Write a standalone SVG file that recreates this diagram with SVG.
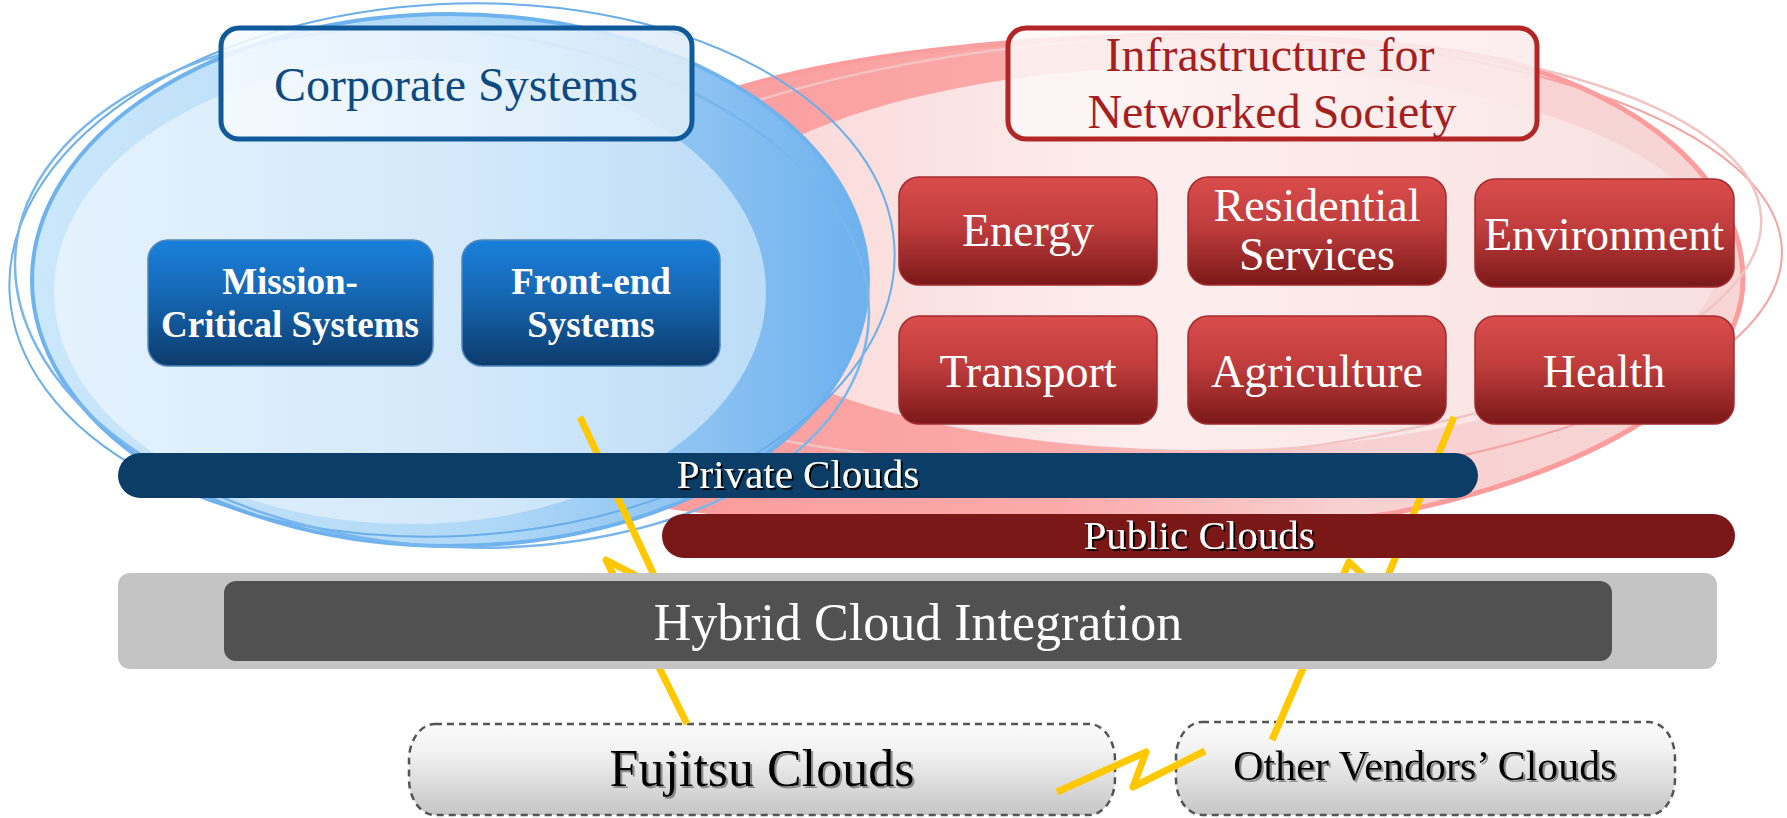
<svg xmlns="http://www.w3.org/2000/svg" width="1787" height="818" viewBox="0 0 1787 818">
<defs>
<linearGradient id="gBlueOuter" x1="0" y1="0" x2="1" y2="0">
<stop offset="0" stop-color="#cbe7fb"/><stop offset="0.55" stop-color="#b0d8f7"/><stop offset="1" stop-color="#6eb1ee"/>
</linearGradient>
<linearGradient id="gBlueInner" x1="0" y1="0" x2="1" y2="0">
<stop offset="0" stop-color="#e4f2fd"/><stop offset="0.6" stop-color="#d2e8fa"/><stop offset="1" stop-color="#bcdcf7"/>
</linearGradient>
<linearGradient id="gRedOuter" gradientUnits="userSpaceOnUse" x1="600" y1="0" x2="1745" y2="0">
<stop offset="0" stop-color="#fb9a9a"/><stop offset="0.4" stop-color="#fbaaaa"/><stop offset="0.65" stop-color="#f8d0d0"/><stop offset="1" stop-color="#f7d6d6"/>
</linearGradient>
<linearGradient id="gRedInner" x1="0" y1="0" x2="1" y2="0">
<stop offset="0" stop-color="#f9d4d4"/><stop offset="0.45" stop-color="#fdeeee"/><stop offset="1" stop-color="#f9dfdf"/>
</linearGradient>
<linearGradient id="gBlueBox" x1="0" y1="0" x2="0" y2="1">
<stop offset="0" stop-color="#1a80dc"/><stop offset="0.45" stop-color="#1566b2"/><stop offset="1" stop-color="#0c3b6b"/>
</linearGradient>
<linearGradient id="gRedBox" x1="0" y1="0" x2="0" y2="1">
<stop offset="0" stop-color="#da4c4c"/><stop offset="0.45" stop-color="#c13d3d"/><stop offset="1" stop-color="#7b1818"/>
</linearGradient>
<linearGradient id="gCorpBox" x1="0" y1="0" x2="1" y2="0">
<stop offset="0" stop-color="#f6fbff"/><stop offset="1" stop-color="#dcecfa"/>
</linearGradient>
<linearGradient id="gInfraBox" x1="0" y1="0" x2="1" y2="0">
<stop offset="0" stop-color="#fdf8f8"/><stop offset="1" stop-color="#fbeaea"/>
</linearGradient>
<linearGradient id="gCloud" x1="0" y1="0" x2="0" y2="1">
<stop offset="0" stop-color="#fbfbfb"/><stop offset="0.3" stop-color="#f2f2f2"/><stop offset="1" stop-color="#c6c6c6"/>
</linearGradient>
<filter id="shBlack" x="-5%" y="-20%" width="110%" height="150%">
<feDropShadow dx="2" dy="2" stdDeviation="0.4" flood-color="#000" flood-opacity="0.95"/>
</filter>
<filter id="shGray" x="-5%" y="-20%" width="110%" height="150%">
<feDropShadow dx="2" dy="2" stdDeviation="0.6" flood-color="#777" flood-opacity="0.8"/>
</filter>
<style>
.serif{font-family:"Liberation Serif","Times New Roman",serif;text-anchor:middle}
.title{font-size:48px}
.bbox{fill:url(#gBlueBox);stroke:#4f86bd;stroke-width:1.5}
.btxt{font-size:37px;font-weight:bold;fill:#fff}
.rbox{fill:url(#gRedBox);stroke:#a52a2e;stroke-width:1.5}
.rtxt{font-size:46px;fill:#fff}
.bartxt{font-size:41px;fill:#fff;filter:url(#shBlack)}
.cloud{fill:url(#gCloud);stroke:#555;stroke-width:2.5;stroke-dasharray:7 5}
.bolt{fill:none;stroke:#ffc800;stroke-width:7;stroke-linejoin:round}
</style>
</defs>

<g id="red-ellipse">
<path d="M1743,279 C1743,400 1560,480 1394,513 C1200,545 820,530 652,504 C560,470 520,380 540,300 C560,180 650,110 760,82 C950,30 1300,20 1500,60 C1640,95 1743,180 1743,279 Z" fill="url(#gRedOuter)" stroke="#fc9c9c" stroke-width="5"/>
<ellipse cx="1200" cy="258" rx="520" ry="192" fill="url(#gRedInner)"/>
<ellipse cx="1150" cy="262" rx="632" ry="228" transform="rotate(-1 1150 262)" fill="none" stroke="#f7a3a3" stroke-width="2"/>
<ellipse cx="1140" cy="250" rx="622" ry="212" transform="rotate(-3 1140 250)" fill="none" stroke="#f3c4c4" stroke-width="2.5"/>
</g>

<g id="blue-ellipse">
<ellipse cx="450" cy="280" rx="418" ry="266" fill="url(#gBlueOuter)" stroke="#6fb3ee" stroke-width="4"/>
<ellipse cx="410" cy="292" rx="356" ry="232" fill="url(#gBlueInner)"/>
<ellipse cx="452" cy="270" rx="443" ry="266" transform="rotate(-3 452 270)" fill="none" stroke="#6aaeea" stroke-width="2"/>
<ellipse cx="442" cy="288" rx="428" ry="258" transform="rotate(5 442 288)" fill="none" stroke="#79b6ee" stroke-width="2.5"/>
</g>

<g id="corporate-systems">
<rect x="221" y="28" width="471" height="111" rx="18" fill="url(#gCorpBox)" fill-opacity="0.88" stroke="#115a9a" stroke-width="5"/>
<text class="serif title" x="456" y="101" fill="#0e4a82">Corporate Systems</text>
</g>

<g id="mission-critical">
<rect class="bbox" x="148" y="240" width="285" height="126" rx="20"/>
<text class="serif btxt" x="290" y="294">Mission-</text>
<text class="serif btxt" x="290" y="337">Critical Systems</text>
</g>

<g id="front-end">
<rect class="bbox" x="462" y="240" width="258" height="126" rx="20"/>
<text class="serif btxt" x="591" y="294">Front-end</text>
<text class="serif btxt" x="591" y="337">Systems</text>
</g>

<g id="infrastructure">
<rect x="1008" y="28" width="529" height="111" rx="18" fill="url(#gInfraBox)" fill-opacity="0.85" stroke="#b22626" stroke-width="5"/>
<text class="serif title" x="1270" y="71" fill="#a51f1f">Infrastructure for</text>
<text class="serif title" x="1272" y="128" fill="#a51f1f">Networked Society</text>
</g>

<g id="energy">
<rect class="rbox" x="899" y="177" width="258" height="108" rx="20"/>
<text class="serif rtxt" x="1028" y="246">Energy</text>
</g>
<g id="residential">
<rect class="rbox" x="1188" y="177" width="258" height="108" rx="20"/>
<text class="serif rtxt" x="1317" y="221">Residential</text>
<text class="serif rtxt" x="1317" y="270">Services</text>
</g>
<g id="environment">
<rect class="rbox" x="1475" y="179" width="259" height="108" rx="20"/>
<text class="serif rtxt" x="1604" y="250">Environment</text>
</g>
<g id="transport">
<rect class="rbox" x="899" y="316" width="258" height="108" rx="20"/>
<text class="serif rtxt" x="1028" y="387">Transport</text>
</g>
<g id="agriculture">
<rect class="rbox" x="1188" y="316" width="258" height="108" rx="20"/>
<text class="serif rtxt" x="1317" y="387">Agriculture</text>
</g>
<g id="health">
<rect class="rbox" x="1475" y="316" width="259" height="108" rx="20"/>
<text class="serif rtxt" x="1604" y="387">Health</text>
</g>

<g id="fujitsu-clouds">
<rect class="cloud" x="409" y="724" width="706" height="91" rx="26" ry="36"/>
<text class="serif" x="762" y="786" font-size="52" fill="#000" filter="url(#shGray)">Fujitsu Clouds</text>
</g>
<g id="other-vendors-clouds">
<rect class="cloud" x="1176" y="722" width="499" height="93" rx="26" ry="36"/>
<text class="serif" x="1425" y="780" font-size="42" fill="#000" filter="url(#shGray)">Other Vendors’ Clouds</text>
</g>

<g id="connectors">
<path class="bolt" d="M580,417 L660,588 L606,560 L687,724"/>
<path class="bolt" d="M1454,417 L1381,592 L1349,562 L1272,740"/>
</g>

<g id="private-clouds">
<rect x="118" y="453" width="1360" height="45" rx="22.5" fill="#0b3d66"/>
<text class="serif bartxt" x="798" y="488">Private Clouds</text>
</g>
<g id="public-clouds">
<rect x="662" y="514" width="1073" height="44" rx="22" fill="#7a1717"/>
<text class="serif bartxt" x="1199" y="549">Public Clouds</text>
</g>
<g id="hybrid-cloud-integration">
<rect x="118" y="573" width="1599" height="96" rx="12" fill="#c4c4c4"/>
<rect x="224" y="581" width="1388" height="80" rx="12" fill="#515151"/>
<text class="serif" x="918" y="640" font-size="52" fill="#fff">Hybrid Cloud Integration</text>
</g>

<g id="connectors-top">
<path class="bolt" d="M1057,792 L1146,752 L1133,787 L1205,751"/>
</g>
</svg>
